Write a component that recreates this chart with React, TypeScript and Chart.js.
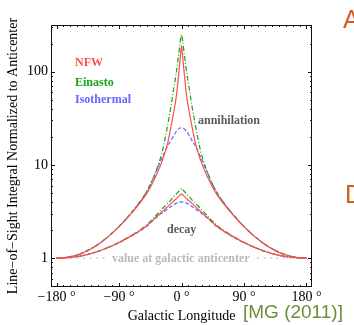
import React, { useEffect, useRef } from 'react';
import { Chart, registerables } from 'chart.js';

Chart.register(...registerables);

// Galactic longitude samples (degrees)
const longitudes = [-180, -165, -150, -135, -120, -105, -90, -75, -60, -50, -40, -30, -25, -20, -15, -12, -10, -8, -6, -4, -2, 0, 2, 4, 6, 8, 10, 12, 15, 20, 25, 30, 40, 50, 60, 75, 90, 105, 120, 135, 150, 165, 180];

// Annihilation (line-of-sight integral of rho^2), normalized to anticenter
const nfwAnnihilation = [1, 1.02, 1.08, 1.2, 1.4, 1.71, 2.16, 2.85, 3.89, 4.95, 6.76, 10, 12.7, 17, 26, 34, 41, 51, 67, 95, 135, 190, 135, 95, 67, 51, 41, 34, 26, 17, 12.7, 10, 6.76, 4.95, 3.89, 2.85, 2.16, 1.71, 1.4, 1.2, 1.08, 1.02, 1];
const einastoAnnihilation = [1, 1.022, 1.085, 1.21, 1.41, 1.72, 2.19, 2.9, 4.0, 5.2, 7.4, 12, 17, 26.5, 43, 60, 74, 92, 118, 155, 205, 250, 205, 155, 118, 92, 74, 60, 43, 26.5, 17, 12, 7.4, 5.2, 4.0, 2.9, 2.19, 1.72, 1.41, 1.21, 1.085, 1.022, 1];
const isothermalAnnihilation = [1, 1.022, 1.085, 1.21, 1.41, 1.72, 2.19, 2.9, 4.0, 5.2, 7.4, 11, 13.3, 16, 18.3, 20.1, 21.3, 22.5, 23.5, 24.3, 24.8, 25, 24.8, 24.3, 23.5, 22.5, 21.3, 20.1, 18.3, 16, 13.3, 11, 7.4, 5.2, 4.0, 2.9, 2.19, 1.72, 1.41, 1.21, 1.085, 1.022, 1];

// Decay (line-of-sight integral of rho), normalized to anticenter
const nfwDecay = [1, 1.01, 1.04, 1.096, 1.183, 1.306, 1.47, 1.69, 1.97, 2.22, 2.6, 3.04, 3.29, 3.57, 3.86, 4.05, 4.17, 4.31, 4.45, 4.59, 4.75, 4.9, 4.75, 4.59, 4.45, 4.31, 4.17, 4.05, 3.86, 3.57, 3.29, 3.04, 2.6, 2.22, 1.97, 1.69, 1.47, 1.306, 1.183, 1.096, 1.04, 1.01, 1];
const einastoDecay = [1, 1.01, 1.04, 1.097, 1.185, 1.31, 1.48, 1.7, 2.0, 2.28, 2.7, 3.25, 3.55, 3.87, 4.22, 4.47, 4.64, 4.82, 5.0, 5.2, 5.4, 5.6, 5.4, 5.2, 5.0, 4.82, 4.64, 4.47, 4.22, 3.87, 3.55, 3.25, 2.7, 2.28, 2.0, 1.7, 1.48, 1.31, 1.185, 1.097, 1.04, 1.01, 1];
const isothermalDecay = [1, 1.01, 1.039, 1.094, 1.18, 1.3, 1.46, 1.675, 1.95, 2.2, 2.58, 2.98, 3.16, 3.36, 3.58, 3.71, 3.79, 3.86, 3.92, 3.96, 3.99, 4.0, 3.99, 3.96, 3.92, 3.86, 3.79, 3.71, 3.58, 3.36, 3.16, 2.98, 2.58, 2.2, 1.95, 1.675, 1.46, 1.3, 1.18, 1.094, 1.039, 1.01, 1];

// Reference line "value at galactic anticenter"
const anticenterLon = [-160, -106, 0, 109, 175];
const anticenterVal = [1, 1, null, 1, 1];

// Axis ticks
const xTickValues = [-180, -90, 0, 90, 180];
const yTickValues = [1, 10, 100];

const RED = '#ff4d4d';
const GREEN = '#1aa31a';
const BLUE = '#6464ff';
const SERIF = '"Liberation Serif", "Times New Roman", serif';

const toPoints = (xs: number[], ys: (number | null)[]) => xs.map((x, i) => ({ x, y: ys[i] }));

const fmtDeg = (v: number) => (v < 0 ? '\u2212' + Math.abs(v) : String(v)) + ' \u00b0';

const framePlugin = {
  id: 'frameAndNotes',
  afterDatasetsDraw(chart: any) {
    const { ctx, chartArea, scales } = chart;
    const { left, right, top, bottom } = chartArea;
    const xs = scales.x;
    const ys = scales.y;
    ctx.save();
    ctx.strokeStyle = '#111';
    ctx.lineWidth = 1;
    ctx.strokeRect(left + 0.5, top + 0.5, right - left - 1, bottom - top - 1);

    ctx.beginPath();
    for (let v = -180; v <= 180; v += 10) {
      const px = Math.round(xs.getPixelForValue(v)) + 0.5;
      const len = v % 90 === 0 ? 4 : 2;
      ctx.moveTo(px, bottom);
      ctx.lineTo(px, bottom - len);
      ctx.moveTo(px, top);
      ctx.lineTo(px, top + len);
    }
    const yMinor: number[] = [];
    for (const dec of [0.1, 1, 10, 100]) {
      for (let k = 1; k <= 9; k++) yMinor.push(k * dec);
    }
    for (const v of yMinor) {
      if (v < ys.min || v > ys.max) continue;
      const py = Math.round(ys.getPixelForValue(v)) + 0.5;
      const major = yTickValues.includes(Math.round(v * 1000) / 1000);
      const len = major ? 4 : 2;
      ctx.moveTo(left, py);
      ctx.lineTo(left + len, py);
      ctx.moveTo(right, py);
      ctx.lineTo(right - len, py);
    }
    ctx.stroke();

    ctx.textBaseline = 'middle';
    ctx.textAlign = 'left';
    ctx.font = 'bold 12px ' + SERIF;
    ctx.fillStyle = RED;
    ctx.fillText('NFW', 75, 63);
    ctx.fillStyle = GREEN;
    ctx.fillText('Einasto', 75, 83);
    ctx.fillStyle = BLUE;
    ctx.fillText('Isothermal', 75, 100);
    ctx.fillStyle = '#5a5a5a';
    ctx.fillText('annihilation', 198, 121);
    ctx.fillText('decay', 167, 230);
    ctx.fillStyle = '#b9b9b9';
    ctx.fillText('value at galactic anticenter', 112, 259);

    ctx.font = '25px "Liberation Sans", Arial, sans-serif';
    ctx.fillStyle = '#cf5f1c';
    ctx.textBaseline = 'alphabetic';
    ctx.fillText('A', 343, 28);
    ctx.fillText('D', 345, 203);
    ctx.font = '19px "Liberation Sans", Arial, sans-serif';
    ctx.fillStyle = '#6b8f3c';
    ctx.fillText('[MG (2011)]', 243, 318);
    ctx.restore();
  },
};

export default function App() {
  const canvasRef = useRef<HTMLCanvasElement | null>(null);

  useEffect(() => {
    if (!canvasRef.current) return;
    const lineDs = (label: string, ys: number[], color: string, dash: number[]) => ({
      label,
      data: toPoints(longitudes, ys),
      borderColor: color,
      backgroundColor: color,
      borderWidth: 1.2,
      borderDash: dash,
      pointRadius: 0,
      cubicInterpolationMode: 'monotone' as const,
      fill: false,
    });
    const chart = new Chart(canvasRef.current, {
      type: 'line',
      data: {
        datasets: [
          lineDs('NFW annihilation', nfwAnnihilation, RED, []),
          lineDs('NFW decay', nfwDecay, RED, []),
          lineDs('Einasto annihilation', einastoAnnihilation, GREEN, [5, 2, 1, 2]),
          lineDs('Einasto decay', einastoDecay, GREEN, [5, 2, 1, 2]),
          lineDs('Isothermal annihilation', isothermalAnnihilation, BLUE, [4, 2]),
          lineDs('Isothermal decay', isothermalDecay, BLUE, [4, 2]),
          {
            label: 'anticenter',
            data: toPoints(anticenterLon, anticenterVal),
            borderColor: '#bdbdbd',
            borderWidth: 1.5,
            borderDash: [1.5, 5],
            pointRadius: 0,
            spanGaps: false,
            fill: false,
          },
        ],
      },
      options: {
        animation: false,
        responsive: false,
        events: [],
        layout: { padding: { left: 0, top: 25, right: 42, bottom: 0 } },
        plugins: { legend: { display: false }, tooltip: { enabled: false } },
        scales: {
          x: {
            type: 'linear',
            min: -188,
            max: 188,
            afterBuildTicks: (s: any) => {
              s.ticks = xTickValues.map((v) => ({ value: v }));
            },
            afterFit: (s: any) => {
              s.height = 38;
            },
            grid: { display: false, drawTicks: false },
            border: { display: false },
            ticks: {
              padding: 2,
              maxRotation: 0,
              autoSkip: false,
              color: '#000',
              font: { family: SERIF, size: 14 },
              callback: (v: any) => fmtDeg(Number(v)),
            },
            title: {
              display: true,
              text: 'Galactic Longitude',
              color: '#000',
              font: { family: SERIF, size: 14 },
              padding: { top: 0, bottom: 0 },
            },
          },
          y: {
            type: 'logarithmic',
            min: 0.49,
            max: 316,
            afterBuildTicks: (s: any) => {
              s.ticks = yTickValues.map((v) => ({ value: v }));
            },
            afterFit: (s: any) => {
              s.width = 51;
            },
            grid: { display: false, drawTicks: false },
            border: { display: false },
            ticks: {
              padding: 3,
              color: '#000',
              font: { family: SERIF, size: 14 },
              callback: (v: any) => String(v),
            },
            title: {
              display: true,
              text: 'Line\u2212of\u2212Sight Integral Normalized to Anticenter',
              color: '#000',
              font: { family: SERIF, size: 14 },
              padding: { top: 5, bottom: 0 },
            },
          },
        },
      },
      plugins: [framePlugin],
    });
    return () => chart.destroy();
  }, []);

  return (
    <div style={{ position: 'fixed', left: 0, top: 0, width: 354, height: 325, background: '#fff' }}>
      <canvas ref={canvasRef} width={354} height={325} style={{ display: 'block' }} />
    </div>
  );
}
